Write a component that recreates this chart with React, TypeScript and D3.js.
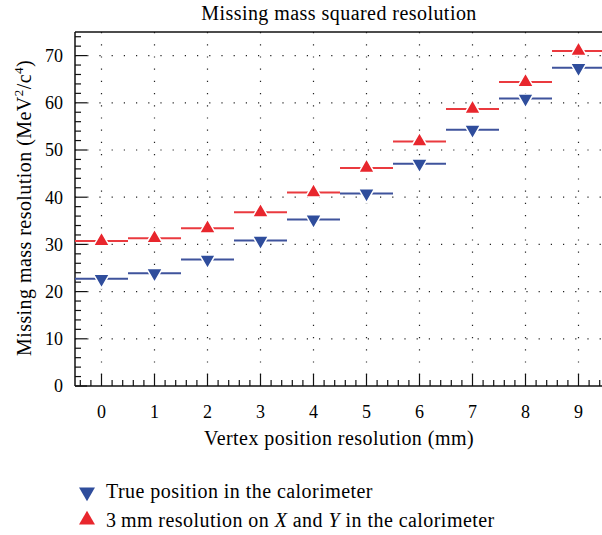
import React, { useEffect, useRef } from 'react';
import * as d3 from 'd3';

const positions = [0, 1, 2, 3, 4, 5, 6, 7, 8, 9];
const trueValues = [22.7, 23.9, 26.8, 30.8, 35.3, 40.8, 47.1, 54.3, 60.9, 67.4];
const smearedValues = [30.7, 31.3, 33.4, 36.8, 41.0, 46.2, 51.8, 58.7, 64.4, 71.0];
const yTicks = [0, 10, 20, 30, 40, 50, 60, 70];

const W = 602;
const H = 535;
const FONT = '"Liberation Serif", "DejaVu Serif", serif';
const RED = '#e8262d';
const BLUE = '#2f4d9c';
const TXT = '20px';
const LS = '0.45px';

export default function App() {
  const svgRef = useRef<SVGSVGElement>(null);

  useEffect(() => {
    if (!svgRef.current) return;
    const svg = d3.select(svgRef.current);
    svg.selectAll('*').remove();

    const left = 75, top = 32, bottom = 386;
    const x = d3.scaleLinear().domain([-0.5, 9.5]).range([left, left + 530]);
    const y = d3.scaleLinear().domain([0, 75]).range([bottom, top]);

    // dotted grid
    const grid = svg.append('g');
    positions.forEach(p => {
      grid.append('line')
        .attr('x1', x(p)).attr('x2', x(p))
        .attr('y1', top).attr('y2', bottom)
        .attr('stroke', '#222').attr('stroke-width', 1.2)
        .attr('stroke-dasharray', '1.2 11');
    });
    yTicks.filter(t => t > 0).forEach(t => {
      grid.append('line')
        .attr('x1', left).attr('x2', W)
        .attr('y1', y(t)).attr('y2', y(t))
        .attr('stroke', '#222').attr('stroke-width', 1.2)
        .attr('stroke-dasharray', '1.2 11');
    });

    // axes frame
    svg.append('line').attr('x1', left).attr('x2', W).attr('y1', top).attr('y2', top)
      .attr('stroke', '#111').attr('stroke-width', 1.5);
    svg.append('line').attr('x1', left).attr('x2', W).attr('y1', bottom).attr('y2', bottom)
      .attr('stroke', '#111').attr('stroke-width', 1.5);
    svg.append('line').attr('x1', left).attr('x2', left).attr('y1', top).attr('y2', bottom)
      .attr('stroke', '#111').attr('stroke-width', 1.5);

    // y ticks (inward)
    d3.range(0, 75.01, 2).forEach(v => {
      const major = v % 10 === 0;
      svg.append('line')
        .attr('x1', left).attr('x2', left + (major ? 12 : 6))
        .attr('y1', y(v)).attr('y2', y(v))
        .attr('stroke', '#111').attr('stroke-width', 1.2);
    });
    yTicks.forEach(t => {
      svg.append('text')
        .attr('x', 63).attr('y', y(t)).attr('dy', '0.35em')
        .attr('text-anchor', 'end')
        .style('font-family', FONT).style('font-size', '18px')
        .text(t);
    });

    // x ticks
    d3.range(-0.4, 9.5, 0.2).forEach(v => {
      const major = Math.abs(v - Math.round(v)) < 1e-6;
      if (x(v) > W) return;
      svg.append('line')
        .attr('x1', x(v)).attr('x2', x(v))
        .attr('y1', bottom).attr('y2', bottom - (major ? 12 : 6))
        .attr('stroke', '#111').attr('stroke-width', 1.2);
    });
    positions.forEach(p => {
      svg.append('text')
        .attr('x', x(p)).attr('y', 418)
        .attr('text-anchor', 'middle')
        .style('font-family', FONT).style('font-size', '18px')
        .text(p);
    });

    // titles
    svg.append('text')
      .attr('x', 339).attr('y', 20).attr('text-anchor', 'middle')
      .style('font-family', FONT).style('font-size', TXT).style('letter-spacing', LS)
      .text('Missing mass squared resolution');
    svg.append('text')
      .attr('x', 339).attr('y', 445).attr('text-anchor', 'middle')
      .style('font-family', FONT).style('font-size', TXT).style('letter-spacing', LS)
      .text('Vertex position resolution (mm)');
    const yl = svg.append('text')
      .attr('transform', `translate(31, 208) rotate(-90)`)
      .attr('text-anchor', 'middle')
      .style('font-family', FONT).style('font-size', TXT).style('letter-spacing', LS);
    yl.append('tspan').text('Missing mass resolution (MeV');
    yl.append('tspan').attr('dy', -8).style('font-size', '13px').text('2');
    yl.append('tspan').attr('dy', 8).text('/c');
    yl.append('tspan').attr('dy', -8).style('font-size', '13px').text('4');
    yl.append('tspan').attr('dy', 8).text(')');

    const tri = d3.symbol().type(d3.symbolTriangle).size(110);

    const drawSeries = (vals: number[], color: string, lineColor: string, down: boolean) => {
      const g = svg.append('g');
      vals.forEach((v, i) => {
        g.append('line')
          .attr('x1', x(positions[i] - 0.5)).attr('x2', Math.min(W, x(positions[i] + 0.5)))
          .attr('y1', y(v)).attr('y2', y(v))
          .attr('stroke', lineColor).attr('stroke-width', 2);
      });
      vals.forEach((v, i) => {
        g.append('path')
          .attr('d', tri)
          .attr('transform', `translate(${x(positions[i])}, ${y(v)}) rotate(${down ? 180 : 0})`)
          .attr('fill', color)
          .attr('stroke', '#fff').attr('stroke-width', 1.5);
      });
    };
    drawSeries(trueValues, BLUE, '#3f539c', true);
    drawSeries(smearedValues, RED, '#ea3a3f', false);

    // legend
    const lg = svg.append('g');
    lg.append('path').attr('d', tri)
      .attr('transform', 'translate(87, 492) rotate(180)').attr('fill', BLUE);
    lg.append('text').attr('x', 106).attr('y', 498)
      .style('font-family', FONT).style('font-size', TXT).style('letter-spacing', LS)
      .text('True position in the calorimeter');
    lg.append('path').attr('d', tri)
      .attr('transform', 'translate(87, 520)').attr('fill', RED);
    const t2 = lg.append('text').attr('x', 106).attr('y', 527)
      .style('font-family', FONT).style('font-size', TXT).style('letter-spacing', LS);
    t2.append('tspan').text('3\u2009mm resolution on ');
    t2.append('tspan').style('font-style', 'italic').text('X');
    t2.append('tspan').text(' and ');
    t2.append('tspan').style('font-style', 'italic').text('Y');
    t2.append('tspan').text(' in the calorimeter');
  }, []);

  return (
    <svg
      ref={svgRef}
      width={W}
      height={H}
      style={{ position: 'absolute', left: 0, top: 0, background: '#fff', display: 'block' }}
    />
  );
}
